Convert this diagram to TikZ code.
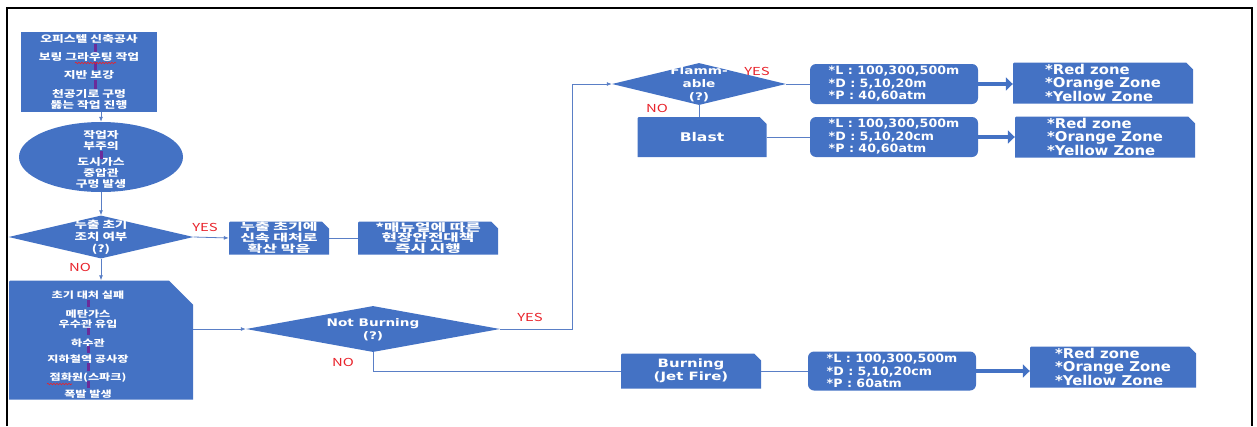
\documentclass[tikz,border=0pt]{standalone}
\usepackage{fontspec}
\newfontfamily\kr{Noto Sans CJK KR}[FakeStretch=1.35]
\newfontfamily\krw{Noto Sans CJK KR}[FakeStretch=1.6]
\newfontfamily\lat{DejaVu Sans}[FakeStretch=1.1]
\newfontfamily\latw{DejaVu Sans}[FakeStretch=1.3]
\usetikzlibrary{shapes.geometric,arrows.meta,decorations.pathmorphing}
\definecolor{boxblue}{HTML}{4472C4}
\definecolor{lineblue}{HTML}{5A7FC6}
\definecolor{yesred}{HTML}{E8232B}
\definecolor{linkpurple}{HTML}{6A2C9A}
\tikzset{every node/.style={inner sep=0pt},
  kor/.style 2 args={text=white,align=center,font=\kr\bfseries\fontsize{#1}{#2}\selectfont},
  korw/.style 2 args={text=white,align=center,font=\krw\bfseries\fontsize{#1}{#2}\selectfont},
  latb/.style 2 args={text=white,align=center,font=\latw\bfseries\fontsize{#1}{#2}\selectfont},
  info/.style={text=white,align=left,font=\lat\bfseries\fontsize{11.5}{12.5}\selectfont},
  zone/.style={text=white,align=left,font=\lat\bfseries\fontsize{13.5}{13}\selectfont},
  plainbox/.style={rectangle,fill=boxblue},
  snipbox/.style={rectangle,path picture={
      \fill[boxblue] (path picture bounding box.south west)
        -- ([yshift=-4pt]path picture bounding box.north west)
        .. controls (path picture bounding box.north west) .. ([xshift=4pt]path picture bounding box.north west)
        -- ([xshift=-#1]path picture bounding box.north east)
        -- ([yshift=-#1]path picture bounding box.north east)
        -- (path picture bounding box.south east) -- cycle;}},
  snipbox/.default=7pt,
  infobox/.style={rectangle,rounded corners=6pt,fill=boxblue},
  dia/.style={diamond,fill=boxblue,aspect=4},
  answer/.style={text=yesred,font=\kr\fontsize{11}{11}\selectfont},
  link/.style={draw=lineblue,line width=0.8pt},
  bigarrow/.style={draw=boxblue,line width=4pt,-{Triangle[length=7pt,width=13pt]}},
  mini/.style={draw=linkpurple,line width=3pt},
  squig/.style={draw=yesred,line width=0.6pt,decorate,decoration={snake,amplitude=0.8pt,segment length=3pt}},
  >={Latex[length=5pt,width=4pt]}}

\begin{document}
\begin{tikzpicture}[x=1pt,y=-1pt]
  \useasboundingbox (0,0) rectangle (1257,426);
  \draw[line width=1.3pt] (7,426) -- (7,8) -- (1252,8) -- (1252,426);

  % left column
  \node[plainbox,kor={9.5}{11},minimum width=136pt,minimum height=80pt] (work) at (89,72)
    {오피스텔 신축공사\\[7pt]보링 그라우팅 작업\\[7pt]지반 보강\\[8pt]천공기로 구멍\\뚫는 작업 진행};
  \node[ellipse,fill=boxblue,minimum width=164pt,minimum height=70pt] (hole) at (101,157) {};
  \node[kor={9.5}{11}] (holetext) at (101,159) {작업자\\부주의\\[5pt]도시가스\\중압관\\구멍 발생};
  \node[dia,minimum width=185pt,minimum height=43pt] (leak) at (101,237) {};
  \node[kor={10}{12}] (leaktext) at (101,237) {누출 초기\\조치 여부\\(?)};
  \node[answer] (yes1) at (205,227) {YES};
  \node[answer] (no1) at (80,267) {NO};
  \node[snipbox,korw={10}{10.8},minimum width=100pt,minimum height=33pt] (stop) at (279,238)
    {누출 초기에\\신속 대처로\\확산 막음};
  \node[snipbox,korw={10.5}{10.8},minimum width=140pt,minimum height=33pt] (manual) at (428,238)
    {*매뉴얼에 따른\\현장안전대책\\즉시 시행};
  \node[snipbox=24pt,minimum width=184pt,minimum height=119pt] (fail) at (101,340) {};
  \node[kor={9}{10.5}] (failtext) at (88,345)
    {초기 대처 실패\\[8pt]메탄가스\\우수관 유입\\[8pt]하수관\\[6pt]지하철역 공사장\\[7pt]점화원(스파크)\\[7pt]폭발 발생};

  % gas state
  \node[dia,minimum width=254pt,minimum height=46pt] (state) at (373,329) {};
  \node[latb={10.5}{13}] (statetext) at (373,330) {Not Burning\\(?)};
  \node[answer] (yes2) at (530,317) {YES};
  \node[answer] (no2) at (343,362) {NO};

  % not burning
  \node[dia,minimum width=174pt,minimum height=42pt] (flam) at (699,84) {};
  \node[latb={10.5}{13}] (flamtext) at (699,84) {Flamm-\\able\\(?)};
  \node[answer] (yes3) at (757,71) {YES};
  \node[answer] (no3) at (657,108) {NO};
  \node[snipbox,latb={12}{13},minimum width=129pt,minimum height=40pt] (blast) at (702,137) {Blast};
  \node[infobox,info,minimum width=168pt,minimum height=40pt] (info1) at (894,84)
    {*L : 100,300,500m\\*D : 5,10,20m\\*P : 40,60atm};
  \node[infobox,info,minimum width=168pt,minimum height=40pt] (info2) at (894,137)
    {*L : 100,300,500m\\*D : 5,10,20cm\\*P : 40,60atm};
  \node[snipbox,zone,minimum width=180pt,minimum height=41pt] (zone1) at (1103,83)
    {*Red zone\\*Orange Zone\\*Yellow Zone};
  \node[snipbox,zone,minimum width=180pt,minimum height=41pt] (zone2) at (1105,137)
    {*Red zone\\*Orange Zone\\*Yellow Zone};

  % burning
  \node[snipbox,latb={11.5}{13},minimum width=140pt,minimum height=35pt] (burn) at (691,371)
    {Burning\\(Jet Fire)};
  \node[infobox,info,minimum width=168pt,minimum height=39pt] (info3) at (892,371)
    {*L : 100,300,500m\\*D : 5,10,20cm\\*P : 60atm};
  \node[snipbox,zone,minimum width=166pt,minimum height=41pt] (zone3) at (1113,367)
    {*Red zone\\*Orange Zone\\*Yellow Zone};

  % connectors
  \draw[link,->] (work.south -| hole.north) -- (hole.north);
  \draw[link,->] (hole.south) -- (leak.north);
  \draw[link,->] (leak.east) -- (stop.west);
  \draw[link] (stop.east) -- (manual.west);
  \draw[link,->] (leak.south) -- (fail.north -| leak.south);
  \draw[link,->] (fail.east |- state.west) -- (state.west);
  \draw[link,->] (state.east) -- ++(72,0) |- (flam.west);
  \draw[link] (flam.east) -- (info1.west);
  \draw[link] (flam.south) -- (blast.north -| flam.south);
  \draw[link] (blast.east) -- (info2.west);
  \draw[link] (state.south) |- (burn.west);
  \draw[link] (burn.east) -- (info3.west);
  \draw[bigarrow] (info1.east) -- (info1.east -| zone1.west);
  \draw[bigarrow] (info2.east) -- (info2.east -| zone2.west);
  \draw[bigarrow] (info3.east) -- (info3.east -| zone3.west);

  % marks left inside the boxes
  \foreach \ya/\yb in {44/52,62/70,80/89} \draw[mini] (95,\ya) -- (95,\yb);
  \draw[mini] (101,151) -- (101,159);
  \foreach \ya/\yb in {300/307,328/335,346/353,363/371,381/388} \draw[mini] (88,\ya) -- (88,\yb);
  \draw[squig] (75,63) -- (116,63);
  \draw[squig] (47,384) -- (72,384);
\end{tikzpicture}
\end{document}
